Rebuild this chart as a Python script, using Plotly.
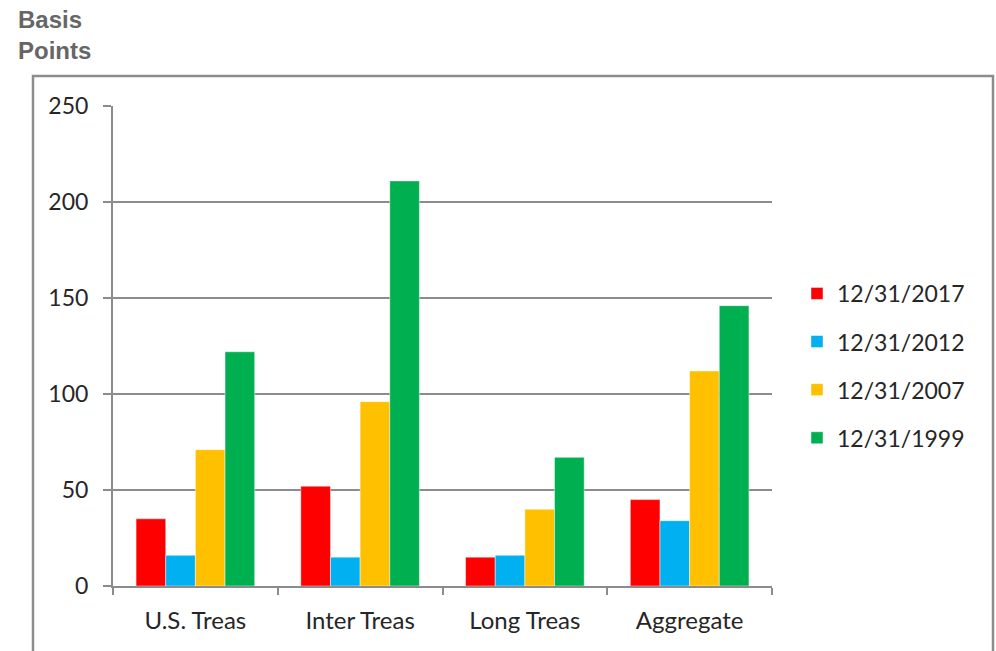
import plotly.graph_objects as go

categories = ["U.S. Treas", "Inter Treas", "Long Treas", "Aggregate"]
series_names = ["12/31/2017", "12/31/2012", "12/31/2007", "12/31/1999"]
values_2017 = [35, 52, 15, 45]
values_2012 = [16, 15, 16, 34]
values_2007 = [71, 96, 40, 112]
values_1999 = [122, 211, 67, 146]
series_colors = ["#FF0000", "#00B0F0", "#FFC000", "#00B050"]
y_ticks = [0, 50, 100, 150, 200, 250]

all_values = [values_2017, values_2012, values_2007, values_1999]

fig = go.Figure()
for i, (name, vals, col) in enumerate(zip(series_names, all_values, series_colors)):
    fig.add_trace(go.Bar(
        x=categories, y=vals, name=name,
        marker=dict(color=col, line=dict(color="rgba(255,255,255,0.45)", width=1)),
        legendgroup=f"g{i}",
    ))

# plot area in pixels
W, H = 996, 651
L, R, T, B = 113, 772, 106, 586

def px_x(p):
    return (p - L) / (R - L)

def px_y(p):
    return (B - p) / (B - T)

axis_grey = "#8C8C8C"
text_col = "#262626"

fig.update_layout(
    width=W, height=H,
    margin=dict(l=L, r=W - R, t=T, b=H - B, pad=0),
    paper_bgcolor="white", plot_bgcolor="white",
    barmode="group", bargap=0.28, bargroupgap=0,
    font=dict(family="Lato", color=text_col, size=22),
    showlegend=True,
    legend=dict(
        x=px_x(797), y=px_y(272), xanchor="left", yanchor="top",
        font=dict(family="Lato", size=23, color=text_col),
        tracegroupgap=15.2, bgcolor="rgba(0,0,0,0)",
    ),
    xaxis=dict(
        showline=True, linecolor=axis_grey, linewidth=2,
        ticks="outside", ticklen=7, tickcolor=axis_grey, tickwidth=2,
        tickson="boundaries", showgrid=False,
        tickfont=dict(family="Lato", size=24, color=text_col),
        ticklabelstandoff=12,
    ),
    yaxis=dict(
        range=[0, 250], tickvals=y_ticks,
        showline=True, linecolor=axis_grey, linewidth=2,
        ticks="outside", ticklen=8, tickcolor=axis_grey, tickwidth=2,
        showgrid=True, gridcolor=axis_grey, gridwidth=2,
        zeroline=False,
        tickfont=dict(family="Lato", size=23, color=text_col),
        ticklabelstandoff=10,
    ),
    shapes=[dict(
        type="rect", xref="paper", yref="paper",
        x0=px_x(33), x1=px_x(993), y0=px_y(665), y1=px_y(76),
        line=dict(color=axis_grey, width=2.5), layer="below",
    )],
    annotations=[
        dict(text="<b>Basis</b>", xref="paper", yref="paper",
             x=px_x(16), y=px_y(4), xanchor="left", yanchor="top",
             showarrow=False, font=dict(family="Arial", size=24, color="#666666")),
        dict(text="<b>Points</b>", xref="paper", yref="paper",
             x=px_x(16), y=px_y(35), xanchor="left", yanchor="top",
             showarrow=False, font=dict(family="Arial", size=24, color="#666666")),
    ],
)

fig.write_html("out.html")
